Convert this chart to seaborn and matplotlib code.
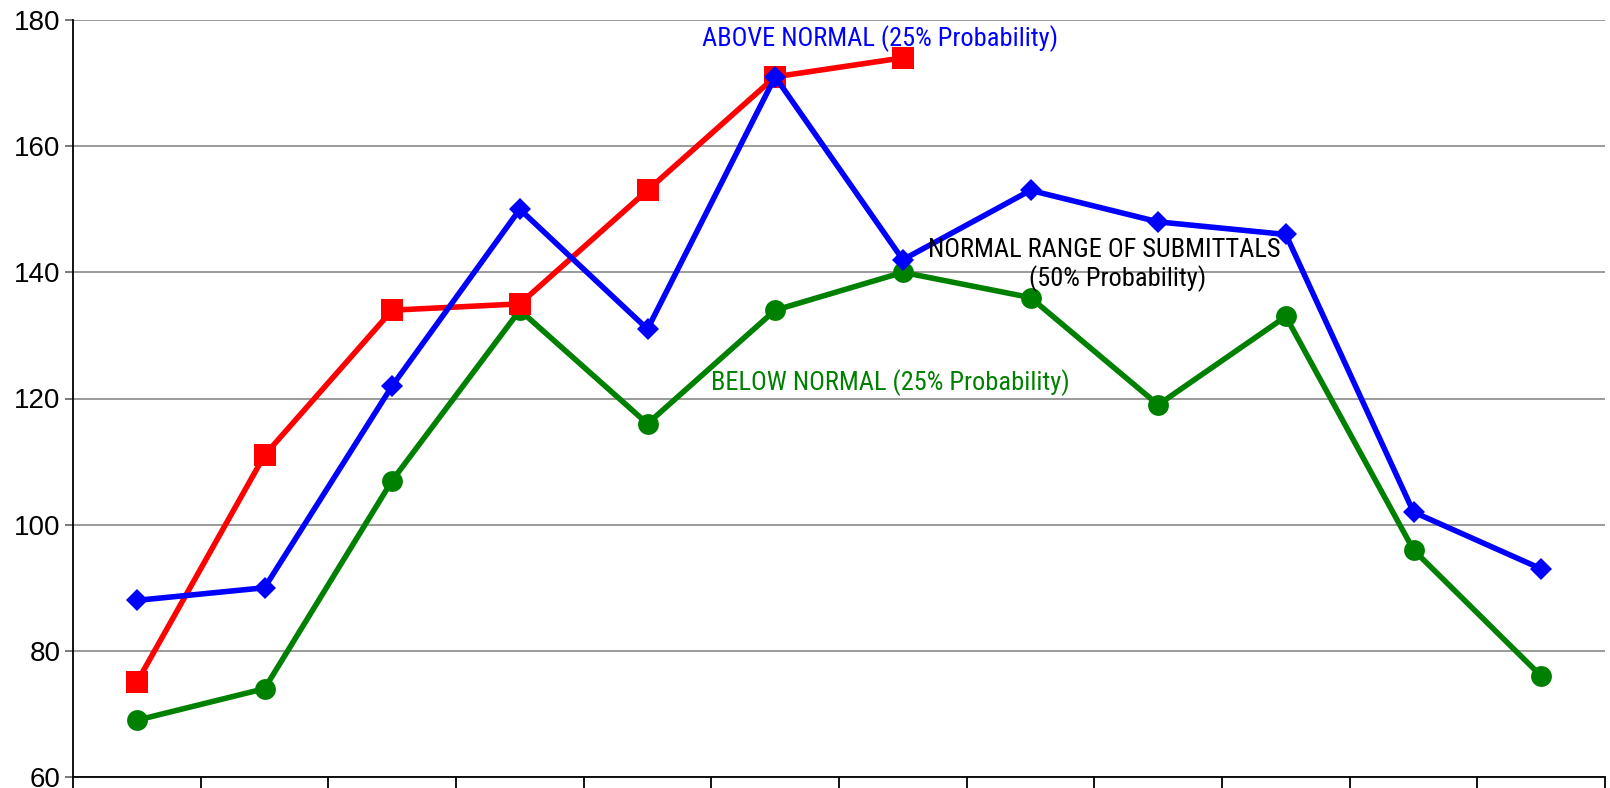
import numpy as np
import pandas as pd
import matplotlib
matplotlib.use("Agg")
import matplotlib.pyplot as plt
import seaborn as sns
from matplotlib import font_manager

# Monthly submittal counts
months = ["Jan", "Feb", "Mar", "Apr", "May", "Jun", "Jul", "Aug", "Sep", "Oct", "Nov", "Dec"]
above_normal = [88, 90, 122, 150, 131, 171, 142, 153, 148, 146, 102, 93]
below_normal = [69, 74, 107, 134, 116, 134, 140, 136, 119, 133, 96, 76]
current_year = [75, 111, 134, 135, 153, 171, 174]

sns.set_theme(style="white")
plt.rcParams["font.family"] = ["Liberation Sans", "DejaVu Sans"]

# Prefer a narrow face for the band labels when one is available
installed = {f.name for f in font_manager.fontManager.ttflist}
narrow = None
for cand in ("Liberation Sans Narrow", "Arial Narrow", "Roboto Condensed", "Open Sans Condensed"):
    if cand in installed:
        narrow = cand
        break
if narrow is not None:
    label_family, label_size = [narrow, "DejaVu Sans"], 19
else:
    label_family, label_size = ["Liberation Sans", "DejaVu Sans"], 16.2

fig = plt.figure(figsize=(16.1, 7.88), dpi=100)
ax = fig.add_axes([73 / 1610, 11 / 788, 1532 / 1610, 757 / 788])

x_all = np.arange(len(months))
df_above = pd.DataFrame({"x": x_all, "y": above_normal})
df_below = pd.DataFrame({"x": x_all, "y": below_normal})
df_cur = pd.DataFrame({"x": x_all[:len(current_year)], "y": current_year})

sns.lineplot(data=df_below, x="x", y="y", ax=ax, color="#008000", linewidth=4,
             marker="o", markersize=15, markeredgewidth=0, zorder=3)
sns.lineplot(data=df_cur, x="x", y="y", ax=ax, color="#FF0000", linewidth=4,
             marker="s", markersize=15.5, markeredgewidth=0, zorder=4)
sns.lineplot(data=df_above, x="x", y="y", ax=ax, color="#0000FF", linewidth=4,
             marker="D", markersize=11.5, markeredgewidth=0, zorder=5)

ax.set_xlim(-0.5, len(months) - 0.5)
ax.set_ylim(60, 180)
ax.set_yticks(np.arange(60, 181, 20))
ax.set_xticks(np.arange(-0.5, len(months), 1.0))
ax.set_xticklabels([])
ax.set_xlabel("")
ax.set_ylabel("")

ax.yaxis.grid(True, color="#7f7f7f", linewidth=1.1)
ax.xaxis.grid(False)
ax.set_axisbelow(True)
for side in ("top", "right"):
    ax.spines[side].set_visible(False)
for side in ("left", "bottom"):
    ax.spines[side].set_color("black")
    ax.spines[side].set_linewidth(1.3)

ax.tick_params(axis="y", which="major", direction="out", length=6, width=1.1,
               color="#555555", labelsize=20, pad=3, labelcolor="black", left=True)
ax.tick_params(axis="x", which="major", direction="out", length=12, width=1.3,
               color="black", bottom=True)

ax.text(5.82, 177.1, "ABOVE NORMAL (25% Probability)", color="#0000FF",
        fontsize=label_size, family=label_family, ha="center", va="center", zorder=6)
ax.text(7.58, 143.5, "NORMAL RANGE OF SUBMITTALS", color="black",
        fontsize=label_size, family=label_family, ha="center", va="center", zorder=6)
ax.text(7.68, 139.0, "(50% Probability)", color="black",
        fontsize=label_size, family=label_family, ha="center", va="center", zorder=6)
ax.text(5.9, 122.6, "BELOW NORMAL (25% Probability)", color="#008000",
        fontsize=label_size, family=label_family, ha="center", va="center", zorder=6)

fig.savefig("out.png", dpi=100)
